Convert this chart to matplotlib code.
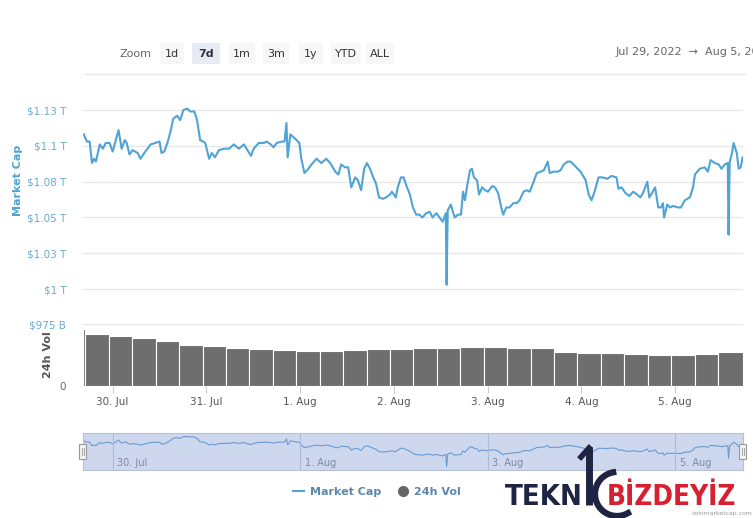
import matplotlib.pyplot as plt
import numpy as np
from matplotlib.lines import Line2D
from matplotlib.patches import Rectangle

# market cap: hours counted from 29 Jul 2022 00:00, value in $ trillion
mc_hours = [16.6, 17.4, 18.1, 18.7, 19.2, 19.7, 20.7, 21.5, 22.2, 23.2,
            24.0, 24.8, 25.5, 26.3, 27.1, 27.6, 28.3, 29.1, 30.4, 31.1,
            32.1, 32.9, 33.7, 34.9, 36.0, 36.5, 37.2, 38.0, 38.8, 39.5,
            40.5, 41.3, 42.1, 43.1, 43.8, 44.9, 45.6, 46.4, 47.2, 47.7,
            48.7, 49.4, 50.2, 51.2, 52.5, 53.8, 55.0, 56.3, 57.6, 58.3,
            59.4, 60.1, 61.4, 62.7, 63.4, 64.5, 65.2, 66.0, 67.3, 68.0,
            68.5, 68.8, 69.5, 70.3, 71.1, 71.8, 72.3, 73.1, 74.1, 74.9,
            76.2, 77.4, 78.7, 79.7, 81.0, 81.8, 82.5, 83.5, 84.3, 85.1,
            86.1, 86.8, 87.6, 88.4, 89.1, 89.9, 90.7, 91.4, 92.2, 93.2,
            94.0, 95.0, 95.5, 96.5, 97.0, 97.8, 98.5, 99.1, 100.1, 100.9,
            101.7, 102.5, 103.3, 104.3, 105.2, 105.9, 106.9, 107.7, 108.5, 109.3,
            109.5, 109.8, 110.6, 111.1, 111.6, 112.4, 113.2, 113.7, 114.2, 114.7,
            115.5, 116.0, 116.5, 117.3, 117.8, 118.6, 119.4, 120.1, 121.2, 121.9,
            122.7, 123.5, 124.0, 124.8, 125.6, 126.6, 127.4, 128.2, 129.2, 130.0,
            130.8, 131.8, 132.6, 133.6, 134.4, 135.4, 135.9, 136.9, 138.0, 138.7,
            139.5, 140.5, 141.3, 142.0, 143.1, 143.8, 145.1, 145.9, 146.6, 147.4,
            148.4, 149.4, 150.7, 151.7, 153.0, 153.5, 154.3, 155.3, 156.3, 157.3,
            158.3, 159.1, 159.8, 160.9, 161.4, 162.1, 162.9, 163.7, 164.4, 164.9,
            165.2, 166.0, 166.7, 167.5, 168.8, 169.5, 170.5, 171.8, 172.6, 173.1,
            174.3, 175.6, 176.4, 177.1, 178.2, 179.2, 179.9, 180.7, 181.5, 181.7,
            182.0, 182.5, 183.0, 183.8, 184.3, 184.8, 185.3]
mc_values = [1.108, 1.103, 1.103, 1.088, 1.091, 1.089, 1.101, 1.098, 1.102, 1.102,
             1.096, 1.104, 1.111, 1.098, 1.104, 1.102, 1.094, 1.097, 1.095, 1.091,
             1.095, 1.098, 1.101, 1.102, 1.103, 1.095, 1.096, 1.102, 1.110, 1.119,
             1.121, 1.118, 1.125, 1.126, 1.124, 1.124, 1.118, 1.104, 1.103, 1.102,
             1.091, 1.095, 1.092, 1.097, 1.098, 1.098, 1.101, 1.098, 1.101, 1.098,
             1.093, 1.098, 1.102, 1.102, 1.103, 1.101, 1.099, 1.102, 1.103, 1.103,
             1.116, 1.092, 1.108, 1.106, 1.104, 1.102, 1.091, 1.081, 1.084, 1.087,
             1.091, 1.088, 1.091, 1.088, 1.082, 1.080, 1.087, 1.085, 1.085, 1.071,
             1.078, 1.076, 1.069, 1.084, 1.088, 1.084, 1.078, 1.074, 1.064, 1.063,
             1.064, 1.066, 1.068, 1.064, 1.071, 1.078, 1.078, 1.073, 1.066, 1.057,
             1.052, 1.052, 1.050, 1.053, 1.054, 1.050, 1.053, 1.050, 1.047, 1.053,
             1.003, 1.055, 1.059, 1.054, 1.050, 1.052, 1.052, 1.068, 1.062, 1.071,
             1.083, 1.084, 1.078, 1.076, 1.066, 1.071, 1.069, 1.068, 1.072, 1.071,
             1.067, 1.057, 1.052, 1.057, 1.057, 1.060, 1.060, 1.062, 1.068, 1.069,
             1.068, 1.075, 1.081, 1.082, 1.083, 1.089, 1.081, 1.082, 1.082, 1.083,
             1.087, 1.089, 1.089, 1.087, 1.084, 1.082, 1.076, 1.066, 1.062, 1.068,
             1.078, 1.078, 1.077, 1.079, 1.078, 1.070, 1.071, 1.067, 1.065, 1.068,
             1.066, 1.064, 1.067, 1.075, 1.064, 1.067, 1.071, 1.057, 1.057, 1.060,
             1.050, 1.059, 1.057, 1.058, 1.057, 1.057, 1.062, 1.064, 1.071, 1.080,
             1.084, 1.085, 1.082, 1.090, 1.088, 1.087, 1.084, 1.087, 1.088, 1.038,
             1.089, 1.094, 1.102, 1.095, 1.084, 1.085, 1.092]

# 24h volume in $ billion, one value per 6 hour block
vol_values = [895, 820, 785, 755, 705, 645, 628, 597, 580, 565, 550, 550, 565, 580,
              575, 590, 600, 617, 617, 600, 590, 534, 513, 513, 502, 487, 487, 497, 534]
vol_edges = [16.4] + list(range(17, 180, 6)) + [185.4]

day_ticks = [24, 48, 72, 96, 120, 144, 168]
day_labels = ['30. Jul', '31. Jul', '1. Aug', '2. Aug', '3. Aug', '4. Aug', '5. Aug']
mc_ticks = [1.0, 1.025, 1.05, 1.075, 1.1, 1.125]
mc_labels = ['$1 T', '$1.03 T', '$1.05 T', '$1.08 T', '$1.1 T', '$1.13 T']
zoom_buttons = ['1d', '7d', '1m', '3m', '1y', 'YTD', 'ALL']

W, H = 753, 518
BLUE = '#4fa3d5'
LABEL_BLUE = '#6aaad2'


def box(l, t, r, b):
    return [l / W, 1 - b / H, (r - l) / W, (b - t) / H]


fig = plt.figure(figsize=(W / 100, H / 100), dpi=100)
xmin, xmax = 16.4, 185.4

# main market cap panel
ax = fig.add_axes(box(83, 95, 743, 305))
ax.plot(mc_hours, mc_values, color=BLUE, lw=1.5)
ax.set_xlim(xmin, xmax)
ax.set_ylim(0.9889, 1.1355)
ax.set_yticks(mc_ticks, labels=mc_labels)
ax.set_xticks([])
ax.tick_params(axis='y', length=0, pad=12, labelsize=7.5, labelcolor=LABEL_BLUE)
ax.grid(axis='y', color='#e6e6e6', lw=0.9)
for s in ax.spines.values():
    s.set_visible(False)

# volume panel
axv = fig.add_axes(box(83, 324, 743, 386))
widths = np.diff(vol_edges)
axv.bar(vol_edges[:-1], vol_values, width=widths, align='edge',
        color='#6e6e6e', edgecolor='white', linewidth=0.8)
axv.set_xlim(xmin, xmax)
axv.set_ylim(0, 975)
axv.set_yticks([0, 975], labels=['0', '$975 B'])
axv.tick_params(axis='y', length=0, pad=12, labelsize=7.5)
axv.get_yticklabels()[0].set_color('#666666')
axv.get_yticklabels()[1].set_color(LABEL_BLUE)
axv.set_xticks(day_ticks, labels=day_labels)
axv.tick_params(axis='x', length=5, color='#cccccc', pad=3, labelsize=7.5, labelcolor='#555555')
axv.grid(axis='y', color='#e6e6e6', lw=0.9)
axv.set_axisbelow(True)
for s in axv.spines.values():
    s.set_visible(False)

# navigator
axn = fig.add_axes(box(83, 433, 743, 470))
axn.set_facecolor('#cdd7ee')
axn.plot(mc_hours, mc_values, color='#6c9bd2', lw=0.8)
axn.set_xlim(xmin, xmax)
axn.set_ylim(0.99, 1.14)
axn.set_xticks([])
axn.set_yticks([])
for t, lab in zip(day_ticks[::2], day_labels[::2]):
    axn.axvline(t, color='#aebbd9', lw=0.8)
    axn.text(t + 1.2, 0.12, lab, transform=axn.get_xaxis_transform(),
             fontsize=7, color='#7c8aa3')
for s in axn.spines.values():
    s.set_color('#b6c0d6')
    s.set_linewidth(0.8)

# pixel overlay for toolbar, handles and watermark
ov = fig.add_axes([0, 0, 1, 1])
ov.set_xlim(0, W)
ov.set_ylim(H, 0)
ov.axis('off')

ov.text(136, 54, 'Zoom', ha='center', va='center', fontsize=8, color='#666666')
btn_x = [172, 206, 242, 276, 311, 346, 380]
btn_w = [24, 28, 26, 26, 24, 30, 28]
for lab, cx, bw in zip(zoom_buttons, btn_x, btn_w):
    sel = lab == '7d'
    ov.add_patch(Rectangle((cx - bw / 2, 43), bw, 21,
                           facecolor='#e6ebf5' if sel else '#f7f7f7', edgecolor='none'))
    ov.text(cx, 54, lab, ha='center', va='center', fontsize=8, color='#333333',
            fontweight='bold' if sel else 'normal')
# the date range runs off the right edge, as in the screenshot
ov.text(616, 52, 'Jul 29, 2022  \u2192  Aug 5, 2022', ha='left', va='center',
        fontsize=8, color='#666666', clip_on=True)
ov.plot([85, 745], [74, 74], color='#e6e6e6', lw=0.9)

fig.text(18 / W, 1 - 180 / H, 'Market Cap', rotation=90, ha='center', va='center',
         fontsize=8, fontweight='bold', color=BLUE)
fig.text(48 / W, 1 - 355 / H, '24h Vol', rotation=90, ha='center', va='center',
         fontsize=8, fontweight='bold', color='#555555')

for hx in [83, 743]:
    ov.add_patch(Rectangle((hx - 3.5, 444), 7, 15, facecolor='#f2f2f2',
                           edgecolor='#999999', lw=0.8))
    ov.plot([hx - 1, hx - 1], [448, 455], color='#999999', lw=0.6)
    ov.plot([hx + 1, hx + 1], [448, 455], color='#999999', lw=0.6)

handles = [Line2D([], [], color=BLUE, lw=1.5),
           Line2D([], [], marker='o', color='#666666', linestyle='none', markersize=7)]
fig.legend(handles, ['Market Cap', '24h Vol'], loc='center', ncol=2,
           bbox_to_anchor=(377 / W, 1 - 492 / H), frameon=False, handlelength=1.0,
           handletextpad=0.5, columnspacing=1.5, labelcolor='#5f86ab',
           prop={'weight': 'bold', 'size': 8})

# watermark
ov.text(505, 505, 'TEKN', ha='left', va='baseline', fontsize=21, fontweight='heavy',
        fontstretch='condensed', color='#1f2442')
ov.text(607, 505, 'BİZDEYİZ', ha='left', va='baseline', fontsize=20, fontweight='heavy',
        fontstretch='condensed', color='#d72031')
ov.plot([589, 589], [447, 505], color='#1f2442', lw=5, solid_capstyle='butt')
ov.plot([589, 581], [448, 457], color='#1f2442', lw=4)
th = np.radians(np.linspace(100, 300, 60))
ov.plot(617 + 22 * np.cos(th), 494 - 22 * np.sin(th), color='#1f2442', lw=4.5)
ov.text(692, 513, 'coinmarketcap.com', ha='left', va='center', fontsize=4.4, color='#999999')

fig.savefig('out.png', dpi=100)
